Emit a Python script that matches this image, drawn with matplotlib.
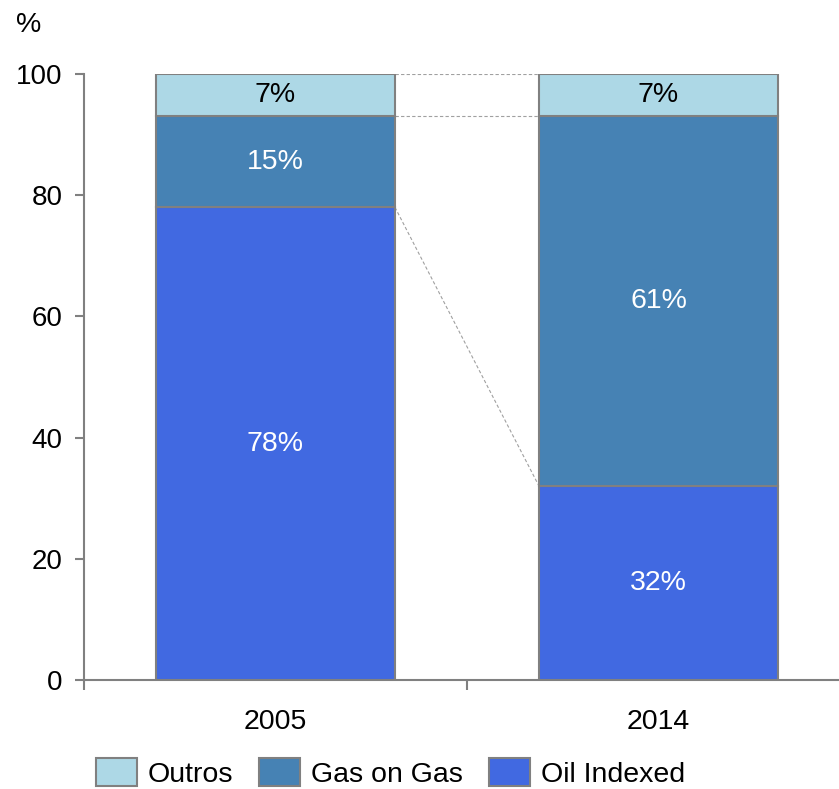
import numpy as np
import matplotlib
matplotlib.use("Agg")
import matplotlib.pyplot as plt
from matplotlib.patches import Patch

plt.rcParams['font.family'] = ['Liberation Sans', 'DejaVu Sans']

# data
years = ["2005", "2014"]
oil_indexed = [78, 32]
gas_on_gas = [15, 61]
outros = [7, 7]

c_outros = "#ADD8E6"
c_gas = "#4682B4"
c_oil = "#4169E1"
edge = "#808080"
fs = 20.5

W, H = 839, 789
fig = plt.figure(figsize=(W / 100, H / 100), dpi=100)
ax = fig.add_axes([84 / W, 1 - 680 / H, 1 - 84 / W, (680 - 74) / H])

x = np.arange(len(years))
bw = 0.624

ax.bar(x, oil_indexed, bw, color=c_oil, edgecolor=edge, linewidth=1.5, zorder=3)
ax.bar(x, gas_on_gas, bw, bottom=oil_indexed, color=c_gas, edgecolor=edge,
       linewidth=1.5, zorder=3)
bottom3 = np.array(oil_indexed) + np.array(gas_on_gas)
ax.bar(x, outros, bw, bottom=bottom3, color=c_outros, edgecolor=edge,
       linewidth=1.5, zorder=3)

# value labels
for i in range(len(years)):
    ax.text(x[i], oil_indexed[i] / 2, f"{oil_indexed[i]}%", ha='center', va='center',
            color='white', fontsize=fs, zorder=4)
    ax.text(x[i], oil_indexed[i] + gas_on_gas[i] / 2, f"{gas_on_gas[i]}%", ha='center',
            va='center', color='white', fontsize=fs, zorder=4)
    ax.text(x[i], bottom3[i] + outros[i] / 2, f"{outros[i]}%", ha='center',
            va='center', color='black', fontsize=fs, zorder=4)

# connector lines between the bars
tops0 = [oil_indexed[0], bottom3[0], bottom3[0] + outros[0]]
tops1 = [oil_indexed[1], bottom3[1], bottom3[1] + outros[1]]
for a, b in zip(tops0, tops1):
    ax.plot([x[0] + bw / 2, x[1] - bw / 2], [a, b], color="#a0a0a0", lw=0.8,
            ls=(0, (3, 2)), zorder=2)

ax.set_ylim(0, 100)
ax.set_xlim(-0.5, 1.5 - 11 / 383)
ax.set_yticks([0, 20, 40, 60, 80, 100])
ax.set_xticks(x)
ax.set_xticklabels(years)
ax.set_xticks([-0.5, 0.5], minor=True)

for s in ['top', 'right']:
    ax.spines[s].set_visible(False)
for s in ['left', 'bottom']:
    ax.spines[s].set_color(edge)
    ax.spines[s].set_linewidth(1.5)

ax.tick_params(axis='y', length=6.5, width=1.5, color=edge, labelsize=20, pad=9)
ax.tick_params(axis='x', which='major', length=0, labelsize=fs, pad=21)
ax.tick_params(axis='x', which='minor', length=7, width=1.5, color=edge)

fig.text(29 / W, 1 - 25 / H, "%", fontsize=fs, ha='center', va='center')

handles = [Patch(facecolor=c_outros, edgecolor=edge, lw=1.5, label="Outros"),
           Patch(facecolor=c_gas, edgecolor=edge, lw=1.5, label="Gas on Gas"),
           Patch(facecolor=c_oil, edgecolor=edge, lw=1.5, label="Oil Indexed")]
fig.legend(handles=handles, loc='center', bbox_to_anchor=(390.5 / W, 1 - 773 / H),
           ncol=3, frameon=False, fontsize=fs, handlelength=1.45, handleheight=1.15,
           handletextpad=0.39, columnspacing=0.9, borderpad=0)

fig.savefig("out.png", dpi=100)
